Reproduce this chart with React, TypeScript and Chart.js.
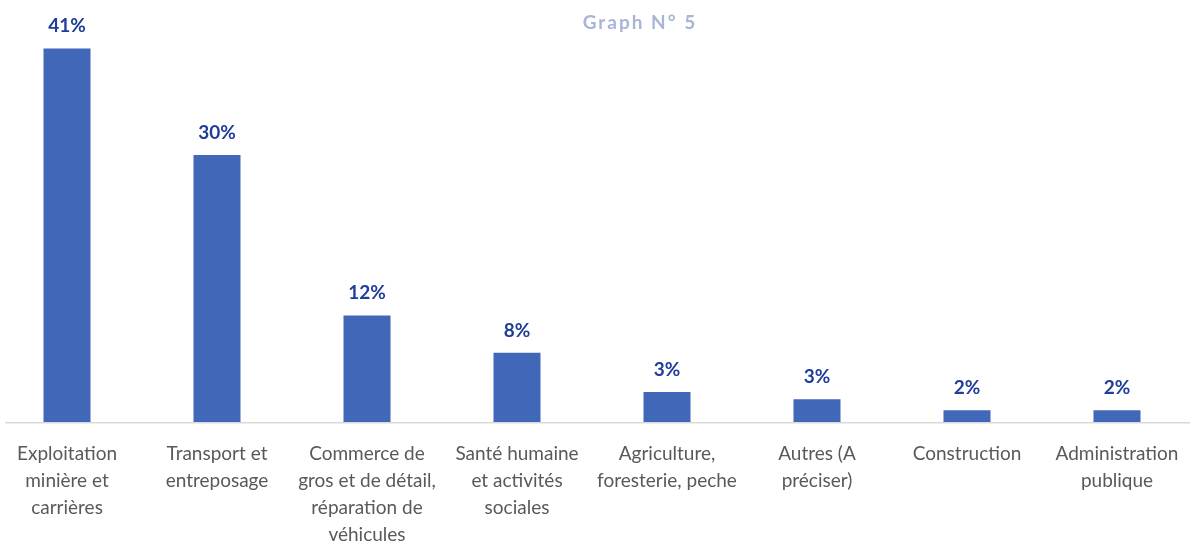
import React, { useEffect, useRef } from "react";
import { Chart, registerables } from "chart.js";

Chart.register(...registerables);

const categories: string[][] = [
  ["Exploitation", "minière et", "carrières"],
  ["Transport et", "entreposage"],
  ["Commerce de", "gros et de détail,", "réparation de", "véhicules"],
  ["Santé humaine", "et activités", "sociales"],
  ["Agriculture,", "foresterie, peche"],
  ["Autres (A", "préciser)"],
  ["Construction"],
  ["Administration", "publique"],
];
const values: number[] = [41, 29.3, 11.7, 7.6, 3.3, 2.5, 1.3, 1.3];
const valueLabels: string[] = ["41%", "30%", "12%", "8%", "3%", "3%", "2%", "2%"];
const title = "Graph N° 5";

const FONT = "Lato";
const CANVAS_H = 570;

export default function App() {
  const ref = useRef<HTMLCanvasElement | null>(null);
  useEffect(() => {
    if (!ref.current) return;
    const overlay = {
      id: "overlay",
      beforeDatasetsDraw(chart: any) {
        const ctx = chart.ctx;
        const y = chart.chartArea.bottom + 0.75;
        ctx.save();
        ctx.strokeStyle = "#D9D9D9";
        ctx.lineWidth = 1.5;
        ctx.beginPath();
        ctx.moveTo(13, y);
        ctx.lineTo(chart.width - 2, y);
        ctx.stroke();
        ctx.restore();
      },
      afterDatasetsDraw(chart: any) {
        const ctx = chart.ctx;
        ctx.save();
        const meta = chart.getDatasetMeta(0);
        ctx.fillStyle = "#1F3D99";
        ctx.font = `bold 19px ${FONT}`;
        ctx.textAlign = "center";
        ctx.textBaseline = "alphabetic";
        meta.data.forEach((bar: any, i: number) => {
          ctx.fillText(valueLabels[i], bar.x, bar.y - 16);
        });
        ctx.fillStyle = "#A8B4D8";
        ctx.font = `bold 19px ${FONT}`;
        (ctx as any).letterSpacing = "2px";
        ctx.fillText(title, 648, 29);
        ctx.restore();
      },
    };
    const chart = new Chart(ref.current, {
      type: "bar",
      data: {
        labels: categories,
        datasets: [
          {
            data: values,
            backgroundColor: "#4167B8",
            barPercentage: 47 / 150,
            categoryPercentage: 1,
          },
        ],
      },
      options: {
        animation: false,
        responsive: false,
        devicePixelRatio: 1,
        layout: { padding: { top: 12, left: 0, right: 0, bottom: 0 } },
        plugins: { legend: { display: false }, tooltip: { enabled: false }, title: { display: false } },
        scales: {
          x: {
            grid: { display: false, drawTicks: true, tickLength: 8 },
            border: { display: false },
            ticks: {
              color: "#595959",
              font: { family: FONT, size: 19, lineHeight: 1.42 },
              padding: 10,
              maxRotation: 0,
              autoSkip: false,
            },
            afterFit(scale: any) {
              scale.height = CANVAS_H - 12 - 410;
              scale.paddingLeft = 0;
              scale.paddingRight = 0;
            },
          },
          y: {
            display: false,
            min: 0,
            max: 45,
          },
        },
      },
      plugins: [overlay],
    });
    return () => chart.destroy();
  }, []);
  return (
    <div style={{ position: "fixed", left: 0, top: 0, width: 1190, height: 541, overflow: "hidden", background: "#fff" }}>
      <canvas ref={ref} width={1200} height={CANVAS_H} style={{ position: "absolute", left: -8, top: 0, width: 1200, height: CANVAS_H }} />
    </div>
  );
}
